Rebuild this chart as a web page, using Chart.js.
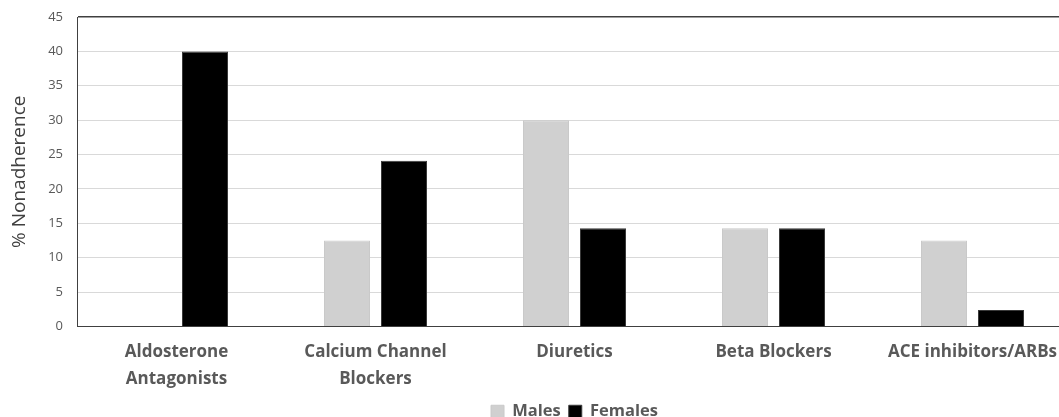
<!DOCTYPE html>
<html>
<head>
<meta charset="utf-8">
<script src="https://cdn.jsdelivr.net/npm/chart.js@4"></script>
<style>
  html, body { margin: 0; padding: 0; overflow: hidden; background: #fff; width: 1059px; height: 417px; }
  #wrap { width: 1075px; height: 430px; }
</style>
</head>
<body>
<div id="wrap"><canvas id="c" width="1075" height="430"></canvas></div>
<script>
const categories = [
  ["Aldosterone", "Antagonists"],
  ["Calcium Channel", "Blockers"],
  "Diuretics",
  "Beta Blockers",
  "ACE inhibitors/ARBs"
];
const seriesNames = ["Males", "Females"];
const males = [0, 12.5, 30, 14.3, 12.5];
const females = [40, 24.1, 14.3, 14.3, 2.4];
const yTicks = [0, 5, 10, 15, 20, 25, 30, 35, 40, 45];

const FONT = "'Open Sans', Lato, sans-serif";

new Chart(document.getElementById('c'), {
  type: 'bar',
  data: {
    labels: categories,
    datasets: [
      { label: seriesNames[0], data: males, backgroundColor: '#d0d0d0', borderColor: '#c9c9c9', borderWidth: 1,
        categoryPercentage: 0.573, barPercentage: 0.807 },
      { label: seriesNames[1], data: females, backgroundColor: '#000000', borderColor: '#3a3a3a', borderWidth: 1,
        categoryPercentage: 0.573, barPercentage: 0.807 }
    ]
  },
  options: {
    responsive: false,
    devicePixelRatio: 1,
    animation: false,
    layout: { padding: { top: 17, left: 0, right: 3, bottom: 0 } },
    plugins: {
      tooltip: { enabled: false },
      legend: {
        position: 'bottom',
        fullSize: false,
        labels: {
          boxWidth: 13, boxHeight: 13, padding: 8,
          color: '#595959',
          font: { family: FONT, size: 16.5, weight: 'bold' }
        }
      }
    },
    scales: {
      x: {
        grid: { display: false, drawTicks: false },
        border: { display: true, color: '#404040', width: 1 },
        ticks: {
          color: '#595959', padding: 12, maxRotation: 0, autoSkip: false,
          font: { family: FONT, size: 17, weight: 'bold', lineHeight: 1.6 }
        },
        afterFit(scale) { scale.height = 69; }
      },
      y: {
        min: 0, max: 45,
        afterBuildTicks(scale) { scale.ticks = yTicks.map(v => ({ value: v })); },
        grid: {
          drawTicks: false,
          color: ctx => (ctx.tick && ctx.tick.value === 45) ? '#404040' : '#d9d9d9',
          lineWidth: ctx => (ctx.tick && ctx.tick.value === 45) ? 1.5 : 1
        },
        border: { display: true, color: '#404040', width: 1 },
        ticks: { color: '#595959', padding: 14, font: { family: FONT, size: 13 } },
        title: {
          display: true, text: '% Nonadherence', color: '#404040',
          font: { family: FONT, size: 19 }, padding: { top: 8, bottom: 0 }
        },
        afterFit(scale) { scale.width = 77; scale.paddingTop = 0; scale.paddingBottom = 0; }
      }
    }
  }
});
</script>
</body>
</html>
